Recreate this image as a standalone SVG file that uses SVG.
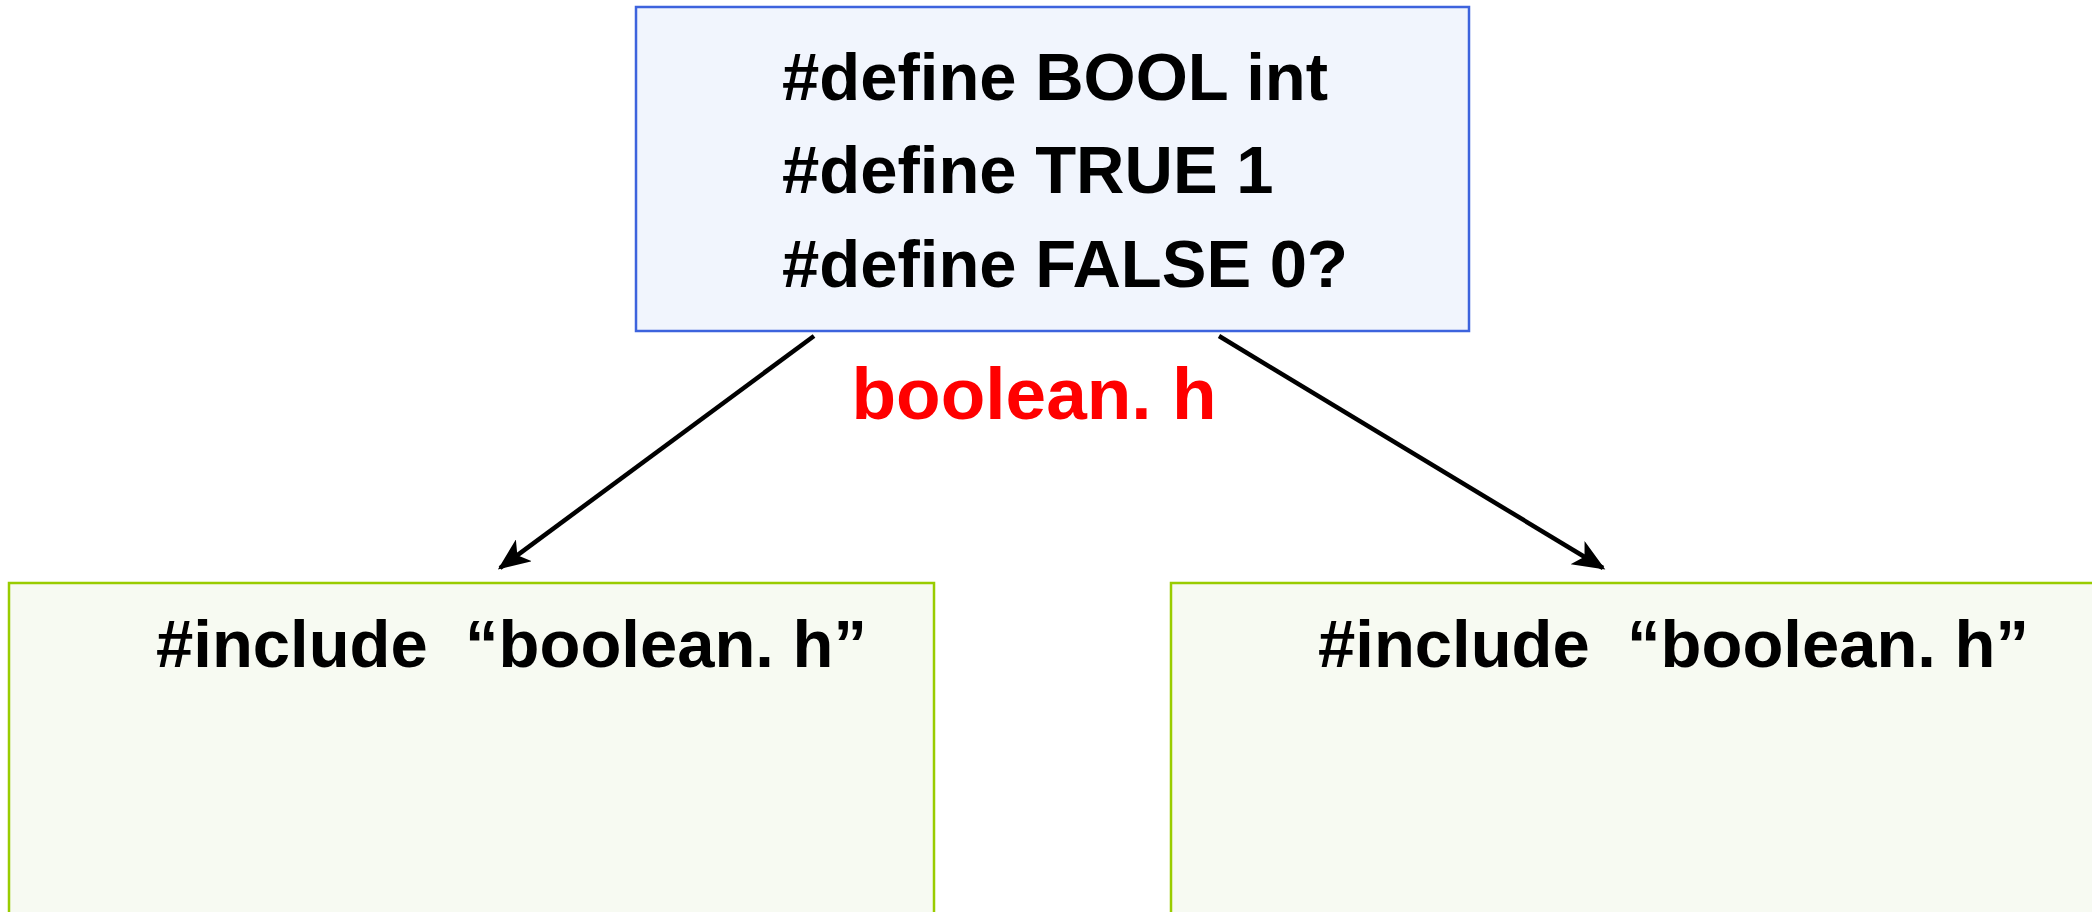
<svg xmlns="http://www.w3.org/2000/svg" width="2092" height="912" viewBox="0 0 2092 912">
  <style>
    .code { font-family: "Liberation Sans", Arial, sans-serif; font-weight: bold; font-size: 67px; fill: #000000; white-space: pre; }
    .label { font-family: "Liberation Sans", Arial, sans-serif; font-weight: bold; font-size: 73px; fill: #ff0000; }
    .header { fill: #f1f5fd; stroke: #3d63dd; stroke-width: 2.5; }
    .source { fill: #f7faf2; stroke: #99cc00; stroke-width: 2.5; }
    .edge { stroke: #000000; stroke-width: 4.5; fill: none; marker-end: url(#arrow); }
  </style>
  <defs>
    <marker id="arrow" viewBox="0 0 12 10" refX="11" refY="5" markerWidth="8" markerHeight="6" orient="auto" markerUnits="strokeWidth">
      <path d="M0,0 L12,5 L0,10 L3,5 Z" fill="#000000"/>
    </marker>
  </defs>
  <rect width="2092" height="912" fill="#ffffff"/>

  <!-- header file with the macro definitions -->
  <g id="boolean-h">
    <rect class="header" x="636" y="7" width="833" height="324"/>
    <text class="code" x="782" y="100">#define BOOL int</text>
    <text class="code" x="782" y="193">#define TRUE 1</text>
    <text class="code" x="782" y="287">#define FALSE 0?</text>
  </g>

  <g id="file-label">
    <text class="label" x="1034" y="419" text-anchor="middle">boolean. h</text>
  </g>

  <!-- source files that include the header -->
  <g id="source-left">
    <rect class="source" x="9" y="583" width="925" height="340"/>
    <text class="code" x="156" y="667">#include  “boolean. h”</text>
  </g>
  <g id="source-right">
    <rect class="source" x="1171" y="583" width="940" height="340"/>
    <text class="code" x="1318" y="667">#include  “boolean. h”</text>
  </g>

  <g id="connectors">
    <line class="edge" x1="814" y1="336" x2="500" y2="568"/>
    <line class="edge" x1="1219" y1="336" x2="1603" y2="568"/>
  </g>
</svg>
